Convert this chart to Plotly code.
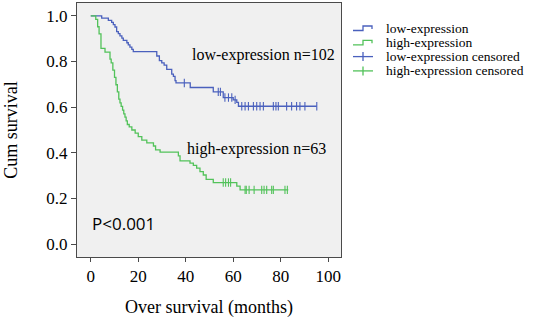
import numpy as np
import plotly.graph_objects as go

# ---- data ----
low_t = [0, 4.6, 7.4, 8.8, 9.5, 10.2, 10.9, 11.6, 12.3, 13.1, 13.7, 15.2, 15.8, 16.5, 17.3, 17.9,
         27.8, 28.9, 29.9, 30.9, 32.0, 34.1, 34.8, 35.5, 35.9, 41.9, 51.6, 55.8, 60.0, 61.5, 62.2]
low_s = [1.0, 0.990, 0.980, 0.971, 0.961, 0.951, 0.931, 0.922, 0.912, 0.902, 0.892, 0.882, 0.873,
         0.863, 0.853, 0.843, 0.824, 0.804, 0.794, 0.784, 0.765, 0.745, 0.735, 0.716, 0.706, 0.686,
         0.667, 0.642, 0.632, 0.621, 0.604]
low_end = 95.2
low_cens = [39.4, 53.7, 54.6, 56.5, 58.0, 59.4, 60.8, 63.6, 65.0, 66.4, 68.5, 69.9, 71.3, 72.7,
            76.9, 78.0, 79.0, 82.5, 84.6, 86.7, 88.1, 90.2, 95.2]

high_t = [0, 2.1, 2.9, 3.5, 4.3, 6.0, 8.1, 8.6, 9.3, 10.0, 10.6, 11.2, 11.8, 12.3, 12.8, 13.4, 13.9,
          14.4, 14.9, 15.4, 16.2, 17.3, 18.7, 20.0, 21.5, 23.6, 26.4, 27.3, 29.2, 36.9, 37.6, 41.8,
          43.2, 44.6, 46.0, 47.4, 48.6, 51.6, 61.5, 62.9]
high_s = [1.0, 0.984, 0.952, 0.921, 0.857, 0.841, 0.810, 0.794, 0.762, 0.730, 0.698, 0.667, 0.635,
          0.619, 0.603, 0.587, 0.571, 0.556, 0.540, 0.524, 0.514, 0.500, 0.486, 0.471, 0.456, 0.444,
          0.430, 0.413, 0.403, 0.387, 0.365, 0.355, 0.345, 0.333, 0.318, 0.303, 0.284, 0.270, 0.254,
          0.238]
high_end = 83.2
high_cens = [55.8, 56.8, 58.0, 58.9, 65.0, 65.5, 66.7, 68.8, 72.0, 73.0, 74.1, 76.2, 76.9, 81.8, 82.8]

x_ticks = [0, 20, 40, 60, 80, 100]
y_ticks = [0.0, 0.2, 0.4, 0.6, 0.8, 1.0]
legend_labels = ["low-expression", "high-expression", "low-expression censored", "high-expression censored"]

BLUE = "#4a60bd"
GREEN = "#52c25a"
SERIF = "Liberation Serif"


def step_xy(t, s, end):
    return list(t) + [end], list(s) + [s[-1]]


def cens_y(t, s, c):
    idx = np.searchsorted(np.array(t), np.array(c), side="right") - 1
    return [s[i] for i in idx]


fig = go.Figure()
for t, s, end, cens, col in [(low_t, low_s, low_end, low_cens, BLUE),
                             (high_t, high_s, high_end, high_cens, GREEN)]:
    x, y = step_xy(t, s, end)
    fig.add_trace(go.Scatter(x=x, y=y, mode="lines", line=dict(color=col, width=1.3, shape="hv"),
                             showlegend=False, hoverinfo="skip"))
    fig.add_trace(go.Scatter(x=cens, y=cens_y(t, s, cens), mode="markers",
                             marker=dict(symbol="line-ns", size=6, line=dict(color=col, width=1.1)),
                             showlegend=False, hoverinfo="skip"))

# plot area in pixels: x 77..341, y 3..257
L, R, T, B = 77, 341, 3, 257
W, H = 550, 318


def px(xp):
    return (xp - L) / (R - L)


def py(yp):
    return (B - yp) / (B - T)


shapes = []
annotations = []
rows = [28.0, 42.3, 56.6, 70.9]
cols = [BLUE, GREEN, BLUE, GREEN]
for i, (lab, yc, col) in enumerate(zip(legend_labels, rows, cols)):
    if i < 2:
        path = (f"M{px(353)},{py(yc + 2.5)} L{px(363)},{py(yc + 2.5)} L{px(363)},{py(yc - 2)} "
                f"L{px(372)},{py(yc - 2)} L{px(372)},{py(yc + 1)}")
        shapes.append(dict(type="path", xref="paper", yref="paper", path=path,
                           line=dict(color=col, width=1.3)))
    else:
        shapes.append(dict(type="line", xref="paper", yref="paper", x0=px(353), x1=px(373),
                           y0=py(yc), y1=py(yc), line=dict(color=col, width=1.3)))
        shapes.append(dict(type="line", xref="paper", yref="paper", x0=px(363), x1=px(363),
                           y0=py(yc - 4.5), y1=py(yc + 4.5), line=dict(color=col, width=1.3)))
    annotations.append(dict(text=lab, xref="paper", yref="paper", x=px(385), y=py(yc),
                            xanchor="left", yanchor="middle", showarrow=False, borderpad=0,
                            font=dict(family=SERIF, size=13.5, color="black")))

annotations += [
    dict(text="low-expression n=102", x=41.8, y=0.828, xref="x", yref="y", xanchor="left",
         yanchor="middle", showarrow=False, font=dict(family=SERIF, size=16, color="black")),
    dict(text="high-expression n=63", x=39.7, y=0.416, xref="x", yref="y", xanchor="left",
         yanchor="middle", showarrow=False, font=dict(family=SERIF, size=16, color="black")),
    dict(text="P<0.001", x=-0.3, y=0.092, xref="x", yref="y", xanchor="left",
         yanchor="middle", showarrow=False, font=dict(family="Open Sans", size=17, color="black")),
]

AX = "#4a4a4a"
fig.update_layout(
    width=W, height=H,
    margin=dict(l=L, r=W - R, t=T, b=H - B),
    paper_bgcolor="white", plot_bgcolor="#f0f0f0",
    shapes=shapes, annotations=annotations,
    showlegend=False,
    xaxis=dict(range=[-5.8, 105.4], tickvals=x_ticks, ticks="outside", ticklen=4, tickcolor=AX,
               showline=True, linecolor=AX, linewidth=1, mirror=True, showgrid=False, zeroline=False,
               tickfont=dict(family=SERIF, size=17, color="black"),
               title=dict(text="Over survival (months)", font=dict(family=SERIF, size=18, color="black"),
                          standoff=15)),
    yaxis=dict(range=[-0.056, 1.056], tickvals=y_ticks, tickformat=".1f", ticks="outside", ticklen=5,
               tickcolor=AX, showline=True, linecolor=AX, linewidth=1, mirror=True, showgrid=False,
               zeroline=False, tickfont=dict(family=SERIF, size=17, color="black"),
               title=dict(text="Cum survival", font=dict(family=SERIF, size=18, color="black"),
                          standoff=24)),
)

fig.write_html("out.html", config={"displayModeBar": False},
               post_script="document.body.style.margin='0px';")
